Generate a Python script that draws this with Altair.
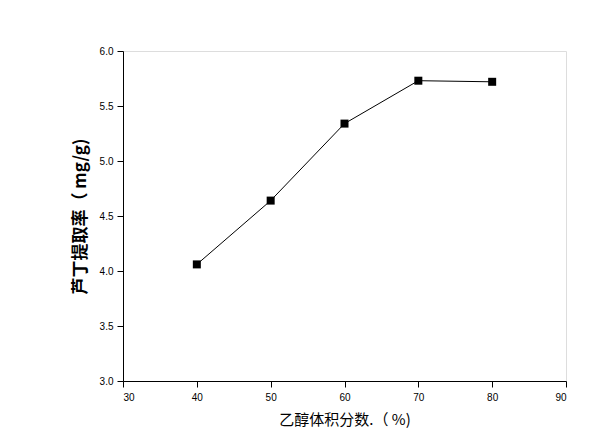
import altair as alt
import pandas as pd

ethanol = [40, 50, 60, 70, 80]
rutin = [4.06, 4.64, 5.34, 5.73, 5.72]

df = pd.DataFrame({"x": ethanol, "y": rutin})

x_vals = [30, 35, 40, 45, 50, 55, 60, 65, 70, 75, 80, 85, 90]
y_vals = [3.0, 3.25, 3.5, 3.75, 4.0, 4.25, 4.5, 4.75, 5.0, 5.25, 5.5, 5.75, 6.0]

xenc = alt.X("x:Q", scale=alt.Scale(domain=[30, 90], nice=False, zero=False),
             axis=alt.Axis(values=x_vals, title="乙醇体积分数.（ %)",
                           labelExpr="datum.value % 10 === 0 ? datum.label : ''",
                           tickSize={"condition": {"test": "datum.value % 10 === 0", "value": 6}, "value": 3},
                           grid=False, domainColor="black", tickColor="black",
                           labelColor="black", labelFont="Liberation Sans", labelFontSize=10,
                           labelPadding=5, titleFont="Noto Sans CJK SC", titleFontSize=15,
                           titleFontWeight="normal", titleColor="black", titlePadding=10))
yenc = alt.Y("y:Q", scale=alt.Scale(domain=[3.0, 6.0], nice=False, zero=False),
             axis=alt.Axis(values=y_vals, title="芦丁提取率（ mg/g)", format=".1f",
                           labelExpr="(datum.value * 100) % 50 === 0 ? datum.label : ''",
                           tickSize={"condition": {"test": "(datum.value * 100) % 50 === 0", "value": 6}, "value": 3},
                           grid=False, domainColor="black", tickColor="black",
                           labelColor="black", labelFont="Liberation Sans", labelFontSize=10,
                           labelPadding=4, titleFont="Noto Sans CJK SC", titleFontSize=17,
                           titleFontWeight="bold", titleColor="black", titlePadding=10))

line = alt.Chart(df).mark_line(color="black", strokeWidth=1).encode(x=xenc, y=yenc)
pts = alt.Chart(df).mark_point(shape="square", filled=True, color="black", size=64, opacity=1).encode(x="x:Q", y="y:Q")

chart = (line + pts).properties(
    width=443, height=330,
    autosize=alt.AutoSizeParams(type="none"),
    padding={"left": 115, "top": 43, "right": 41, "bottom": 55},
).configure_view(stroke=None).configure(background="white")

chart.save("out.html", embed_options={"renderer": "svg", "actions": False})
